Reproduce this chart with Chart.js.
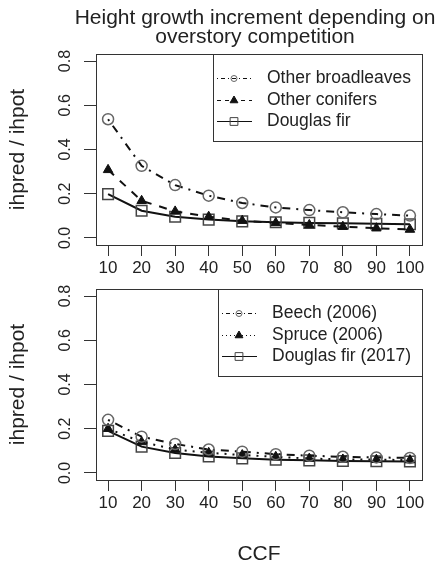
<!DOCTYPE html>
<html>
<head>
<meta charset="utf-8">
<script src="https://cdn.jsdelivr.net/npm/chart.js@4.4.0/dist/chart.umd.min.js"></script>
<style>
	body { margin: 0; background: #fff; width: 443px; height: 566px; overflow: hidden; position: relative; }
	canvas { position: absolute; left: 0; }
	#main-title {
		position: absolute; left: 55px; width: 400px; top: 7px;
		font: 21px Arial, 'Liberation Sans', sans-serif; line-height: 19px;
		color: #222; text-align: center; white-space: nowrap;
	}
</style>
</head>
<body>
<canvas id="chart-top" width="443" height="290" style="top:0px"></canvas>
<canvas id="chart-bottom" width="443" height="296" style="top:270px"></canvas>
<div id="main-title">Height growth increment depending on<br>overstory competition</div>
<script>
// CCF classes on the x axis
var ccf = [10, 20, 30, 40, 50, 60, 70, 80, 90, 100];
var yTicks = [0, 0.2, 0.4, 0.6, 0.8];

// top panel
var otherBroadleaves = [0.537, 0.326, 0.239, 0.191, 0.158, 0.138, 0.126, 0.116, 0.108, 0.101];
var otherConifers = [0.308, 0.168, 0.120, 0.096, 0.078, 0.068, 0.059, 0.051, 0.044, 0.038];
var douglasFir = [0.198, 0.123, 0.096, 0.083, 0.075, 0.071, 0.068, 0.066, 0.064, 0.062];

// bottom panel
var beech2006 = [0.240, 0.164, 0.131, 0.106, 0.096, 0.085, 0.078, 0.073, 0.070, 0.068];
var spruce2006 = [0.200, 0.140, 0.106, 0.091, 0.081, 0.073, 0.065, 0.061, 0.060, 0.058];
var douglasFir2017 = [0.190, 0.119, 0.090, 0.074, 0.066, 0.060, 0.057, 0.054, 0.053, 0.052];

Chart.defaults.font.family = "Arial, 'Liberation Sans', sans-serif";
Chart.defaults.color = '#222';
Chart.defaults.animation = false;

function toPoints(vals) {
	var out = [];
	for (var i in vals) {
		out.push({x: ccf[i], y: vals[i]});
	}
	return out;
}

// R style box round the plot region
var boxPlugin = {
	id: 'rbox',
	afterDraw: function(chart) {
		var a = chart.chartArea, ctx = chart.ctx;
		ctx.save();
		ctx.strokeStyle = '#333';
		ctx.lineWidth = 1;
		ctx.strokeRect(Math.round(a.left) + 0.5, Math.round(a.top) + 0.5, Math.round(a.right - a.left), Math.round(a.bottom - a.top));
		ctx.restore();
	}
};

// R style legend: line sample + symbol, boxed, top right
var legendPlugin = {
	id: 'rlegend',
	afterDraw: function(chart) {
		var ctx = chart.ctx, a = chart.chartArea;
		var ds = chart.data.datasets;
		ctx.save();
		ctx.font = "17.5px Arial, 'Liberation Sans', sans-serif";
		var w = 0;
		ds.forEach(function(d) { w = Math.max(w, ctx.measureText(d.label).width); });
		var right = Math.round(a.right), top = Math.round(a.top);
		var left = right - Math.round(w) - 65;
		ctx.fillStyle = '#fff';
		ctx.fillRect(left, top, right - left, 87);
		ctx.strokeStyle = '#333';
		ctx.lineWidth = 1;
		ctx.strokeRect(left + 0.5, top + 0.5, right - left, 87);
		ds.forEach(function(d, i) {
			var y = Math.round(top + 24 + i * 21.7) + 0.5;
			ctx.beginPath();
			ctx.setLineDash(d.legendDash);
			ctx.strokeStyle = '#111';
			ctx.lineWidth = 1;
			ctx.moveTo(left + 4, y);
			ctx.lineTo(left + 39, y);
			ctx.stroke();
			ctx.setLineDash([]);
			ctx.strokeStyle = d.pointBorderColor;
			ctx.fillStyle = d.pointBackgroundColor;
			Chart.helpers.drawPoint(ctx, {pointStyle: d.pointStyle, radius: d.legendRadius, borderWidth: 1, rotation: 0}, left + 21, y);
			ctx.fillStyle = '#222';
			ctx.textBaseline = 'middle';
			ctx.textAlign = 'left';
			ctx.fillText(d.label, left + 54, y);
		});
		ctx.restore();
	}
};

function makeDataset(label, vals, style) {
	var marks = {
		circle: {pointStyle: 'circle', pointRadius: 5.5, legendRadius: 3, pointBorderColor: '#666', pointBackgroundColor: 'rgba(0,0,0,0)', pointBorderWidth: 1.5},
		triangle: {pointStyle: 'triangle', pointRadius: 5.5, legendRadius: 4.5, pointBorderColor: '#111', pointBackgroundColor: '#111', pointBorderWidth: 1},
		rect: {pointStyle: 'rect', pointRadius: 7.5, legendRadius: 5.5, pointBorderColor: '#444', pointBackgroundColor: 'rgba(0,0,0,0)', pointBorderWidth: 1.5}
	};
	var m = marks[style.mark];
	return {
		label: label,
		data: toPoints(vals),
		borderColor: '#111',
		borderWidth: 2,
		borderDash: style.dash,
		legendDash: style.legendDash,
		tension: 0,
		fill: false,
		pointStyle: m.pointStyle,
		pointRadius: m.pointRadius,
		legendRadius: m.legendRadius,
		pointBorderColor: m.pointBorderColor,
		pointBackgroundColor: m.pointBackgroundColor,
		pointBorderWidth: m.pointBorderWidth
	};
}

function makeScales(xHeight, showXTitle) {
	return {
		x: {
			type: 'linear',
			min: 6.4,
			max: 103.6,
			afterBuildTicks: function(s) { s.ticks = ccf.map(function(v) { return {value: v}; }); },
			afterFit: function(s) { s.height = xHeight; },
			grid: {drawOnChartArea: false, tickLength: 11, color: '#333'},
			border: {display: false},
			ticks: {font: {size: 17}, padding: 2, maxRotation: 0, autoSkip: false, color: '#222'},
			title: {display: showXTitle, text: 'CCF', font: {size: 21, lineHeight: 1}, padding: {top: 0, bottom: 1}, color: '#222'}
		},
		y: {
			min: -0.032,
			max: 0.832,
			afterBuildTicks: function(s) { s.ticks = yTicks.map(function(v) { return {value: v}; }); },
			afterFit: function(s) { s.width = 96; },
			grid: {drawOnChartArea: false, tickLength: 12, color: '#333'},
			border: {display: false},
			ticks: {font: {size: 16}, padding: 7, minRotation: 90, maxRotation: 90, crossAlign: 'center', color: '#222',
				callback: function(v) { return v.toFixed(1); }},
			title: {display: true, text: 'ihpred / ihpot', font: {size: 21}, padding: {top: 6, bottom: 0}, color: '#222'}
		}
	};
}

var topChart = new Chart(document.getElementById('chart-top'), {
	type: 'line',
	data: {
		datasets: [
			makeDataset('Other broadleaves', otherBroadleaves, {mark: 'circle', dash: [2, 6, 8, 6], legendDash: [1, 3, 4, 3]}),
			makeDataset('Other conifers', otherConifers, {mark: 'triangle', dash: [8, 8], legendDash: [4, 4]}),
			makeDataset('Douglas fir', douglasFir, {mark: 'rect', dash: [], legendDash: []})
		]
	},
	options: {
		responsive: false,
		layout: {padding: {left: 0, right: 21, top: 54, bottom: 0}},
		scales: makeScales(45, false),
		plugins: {
			legend: {display: false},
			tooltip: {enabled: false}
		}
	},
	plugins: [boxPlugin, legendPlugin]
});

var bottomChart = new Chart(document.getElementById('chart-bottom'), {
	type: 'line',
	data: {
		datasets: [
			makeDataset('Beech (2006)', beech2006, {mark: 'circle', dash: [2, 6, 8, 6], legendDash: [1, 3, 4, 3]}),
			makeDataset('Spruce (2006)', spruce2006, {mark: 'triangle', dash: [2, 6], legendDash: [1, 3]}),
			makeDataset('Douglas fir (2017)', douglasFir2017, {mark: 'rect', dash: [], legendDash: []})
		]
	},
	options: {
		responsive: false,
		layout: {padding: {left: 0, right: 21, top: 19, bottom: 0}},
		scales: makeScales(86, true),
		plugins: {
			legend: {display: false},
			tooltip: {enabled: false}
		}
	},
	plugins: [boxPlugin, legendPlugin]
});
</script>
</body>
</html>
